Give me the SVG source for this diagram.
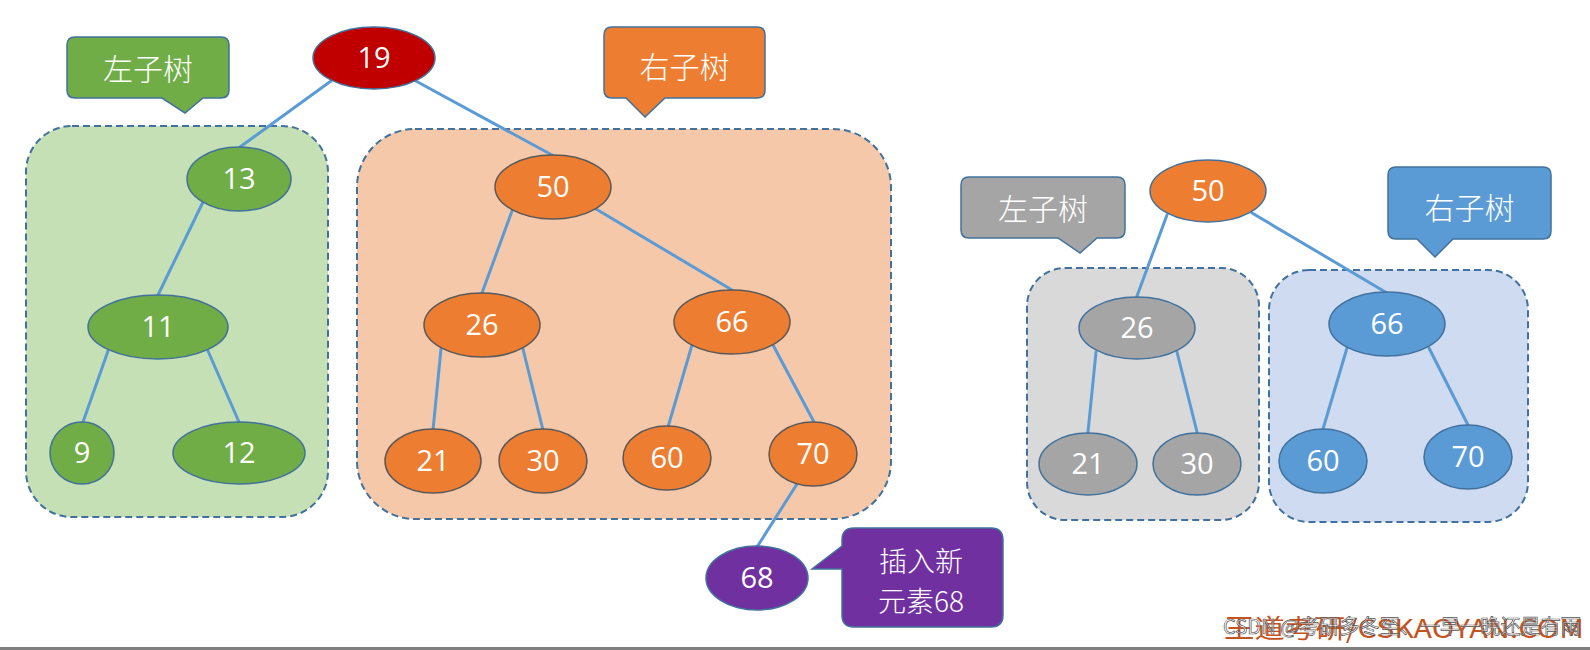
<svg xmlns="http://www.w3.org/2000/svg" width="1590" height="650" viewBox="0 0 1590 650">
<style>
.region{stroke:#41719C;stroke-width:2;stroke-dasharray:7 4;}
.edge{stroke:#5B9BD5;stroke-width:3;fill:none;stroke-linecap:round;}
.node{stroke:#41719C;stroke-width:1.5;}
.num{font-family:"Open Sans","Noto Sans",sans-serif;font-size:29px;fill:#fff;text-anchor:middle;}
.lbl{stroke:#41719C;stroke-width:1.5;}
.cjk{font-family:"Noto Sans CJK SC",sans-serif;font-weight:300;font-size:30px;fill:#fff;text-anchor:middle;}
</style>
<rect x="0" y="0" width="1590" height="650" fill="#fff"/>

<g id="regions">
  <rect id="region-left" class="region" x="26" y="126" width="302" height="391" rx="46" fill="#C5E0B4"/>
  <rect id="region-right" class="region" x="357" y="129" width="534" height="390" rx="58" fill="#F6C8AA"/>
  <rect id="region-left2" class="region" x="1027" y="268" width="232" height="252" rx="38" fill="#D9D9D9"/>
  <rect id="region-right2" class="region" x="1269" y="270" width="259" height="252" rx="40" fill="#CFDBF0"/>
</g>

<g id="callouts">
  <g id="label-left">
    <path class="lbl" fill="#70AD47" d="M75,37 H221 Q229,37 229,45 V90 Q229,98 221,98 H203 L185,113 L162,98 H75 Q67,98 67,90 V45 Q67,37 75,37 Z"/>
    <text class="cjk" x="148" y="80">左子树</text>
  </g>
  <g id="label-right">
    <path class="lbl" fill="#ED7D31" d="M612,27 H757 Q765,27 765,35 V90 Q765,98 757,98 H665 L645,117 L626,98 H612 Q604,98 604,90 V35 Q604,27 612,27 Z"/>
    <text class="cjk" x="684.5" y="78">右子树</text>
  </g>
  <g id="label-left2">
    <path class="lbl" fill="#A5A5A5" d="M969,177 H1117 Q1125,177 1125,185 V230 Q1125,238 1117,238 H1097 L1080,253 L1058,238 H969 Q961,238 961,230 V185 Q961,177 969,177 Z"/>
    <text class="cjk" x="1043" y="220">左子树</text>
  </g>
  <g id="label-right2">
    <path class="lbl" fill="#5B9BD5" d="M1396,167 H1543 Q1551,167 1551,175 V231 Q1551,239 1543,239 H1453 L1435,257 L1417,239 H1396 Q1388,239 1388,231 V175 Q1388,167 1396,167 Z"/>
    <text class="cjk" x="1469.5" y="219">右子树</text>
  </g>
  <g id="label-insert">
    <path class="lbl" fill="#7030A0" d="M854,528 H991 Q1003,528 1003,540 V615 Q1003,627 991,627 H854 Q842,627 842,615 V569 L812,569 L842,546 V540 Q842,528 854,528 Z"/>
    <text class="cjk" style="font-size:28px" x="921" y="572">插入新</text>
    <text class="cjk" style="font-size:28px" x="921" y="612">元素68</text>
  </g>
</g>

<g id="connectors">
  <line class="edge" x1="331" y1="81" x2="240" y2="147"/>
  <line class="edge" x1="414" y1="80" x2="552" y2="155"/>
  <line class="edge" x1="203" y1="202" x2="158" y2="295"/>
  <line class="edge" x1="108" y1="351" x2="83" y2="422"/>
  <line class="edge" x1="208" y1="351" x2="239" y2="422"/>
  <line class="edge" x1="512" y1="211" x2="482" y2="293"/>
  <line class="edge" x1="596" y1="209" x2="732" y2="290"/>
  <line class="edge" x1="441" y1="349" x2="433" y2="430"/>
  <line class="edge" x1="523" y1="349" x2="543" y2="430"/>
  <line class="edge" x1="692" y1="345" x2="668" y2="427"/>
  <line class="edge" x1="773" y1="345" x2="814" y2="422"/>
  <line class="edge" x1="797" y1="484" x2="757" y2="547"/>
  <line class="edge" x1="1167" y1="215" x2="1137" y2="296"/>
  <line class="edge" x1="1252" y1="213" x2="1387" y2="293"/>
  <line class="edge" x1="1096" y1="352" x2="1088" y2="432"/>
  <line class="edge" x1="1177" y1="352" x2="1197" y2="432"/>
  <line class="edge" x1="1347" y1="348" x2="1323" y2="429"/>
  <line class="edge" x1="1429" y1="348" x2="1468" y2="425"/>
</g>

<g id="n19"><ellipse class="node" cx="374" cy="58" rx="61" ry="31" fill="#C00000"/><text class="num" x="374" y="68">19</text></g>
<g id="n13"><ellipse class="node" cx="239" cy="179" rx="52" ry="32" fill="#70AD47"/><text class="num" x="239" y="189">13</text></g>
<g id="n11"><ellipse class="node" cx="158" cy="327" rx="70" ry="32" fill="#70AD47"/><text class="num" x="158" y="337">11</text></g>
<g id="n9"><ellipse class="node" cx="82" cy="453" rx="32" ry="31" fill="#70AD47"/><text class="num" x="82" y="463">9</text></g>
<g id="n12"><ellipse class="node" cx="239" cy="453" rx="66" ry="31" fill="#70AD47"/><text class="num" x="239" y="463">12</text></g>

<g id="n50"><ellipse class="node" style="stroke:#595959" cx="553" cy="187" rx="58" ry="32" fill="#ED7D31"/><text class="num" x="553" y="197">50</text></g>
<g id="n26"><ellipse class="node" style="stroke:#595959" cx="482" cy="325" rx="58" ry="32" fill="#ED7D31"/><text class="num" x="482" y="335">26</text></g>
<g id="n66"><ellipse class="node" style="stroke:#595959" cx="732" cy="322" rx="58" ry="32" fill="#ED7D31"/><text class="num" x="732" y="332">66</text></g>
<g id="n21"><ellipse class="node" style="stroke:#595959" cx="433" cy="461" rx="48" ry="32" fill="#ED7D31"/><text class="num" x="433" y="471">21</text></g>
<g id="n30"><ellipse class="node" style="stroke:#595959" cx="543" cy="461" rx="44" ry="32" fill="#ED7D31"/><text class="num" x="543" y="471">30</text></g>
<g id="n60"><ellipse class="node" style="stroke:#595959" cx="667" cy="458" rx="44" ry="32" fill="#ED7D31"/><text class="num" x="667" y="468">60</text></g>
<g id="n70"><ellipse class="node" style="stroke:#595959" cx="813" cy="454" rx="44" ry="32" fill="#ED7D31"/><text class="num" x="813" y="464">70</text></g>
<g id="n68"><ellipse class="node" cx="757" cy="578" rx="51" ry="32" fill="#7030A0"/><text class="num" x="757" y="588">68</text></g>

<g id="m50"><ellipse class="node" cx="1208" cy="191" rx="58" ry="31" fill="#ED7D31"/><text class="num" x="1208" y="201">50</text></g>
<g id="m26"><ellipse class="node" cx="1137" cy="328" rx="58" ry="31" fill="#A5A5A5"/><text class="num" x="1137" y="338">26</text></g>
<g id="m21"><ellipse class="node" cx="1088" cy="464" rx="49" ry="31" fill="#A5A5A5"/><text class="num" x="1088" y="474">21</text></g>
<g id="m30"><ellipse class="node" cx="1197" cy="464" rx="44" ry="31" fill="#A5A5A5"/><text class="num" x="1197" y="474">30</text></g>
<g id="m66"><ellipse class="node" cx="1387" cy="324" rx="58" ry="32" fill="#5B9BD5"/><text class="num" x="1387" y="334">66</text></g>
<g id="m60"><ellipse class="node" cx="1323" cy="461" rx="44" ry="32" fill="#5B9BD5"/><text class="num" x="1323" y="471">60</text></g>
<g id="m70"><ellipse class="node" cx="1468" cy="457" rx="44" ry="32" fill="#5B9BD5"/><text class="num" x="1468" y="467">70</text></g>

<g id="watermark">
  <text x="1224" y="638" font-family="'Noto Sans CJK SC',sans-serif" font-size="26" fill="#C5531F" textLength="360" lengthAdjust="spacingAndGlyphs">王道考研/CSKAOYAN.COM</text>
  <text x="1223" y="634" font-family="'Noto Sans CJK SC',sans-serif" font-size="20" fill="#ffffff" fill-opacity="0.5" stroke="#555" stroke-width="0.7" textLength="358" lengthAdjust="spacingAndGlyphs">CSDN @考研多冬至、一早一晚还是有雨</text>
</g>
<rect x="0" y="647" width="1590" height="3" fill="#7F7F7F"/>
</svg>
